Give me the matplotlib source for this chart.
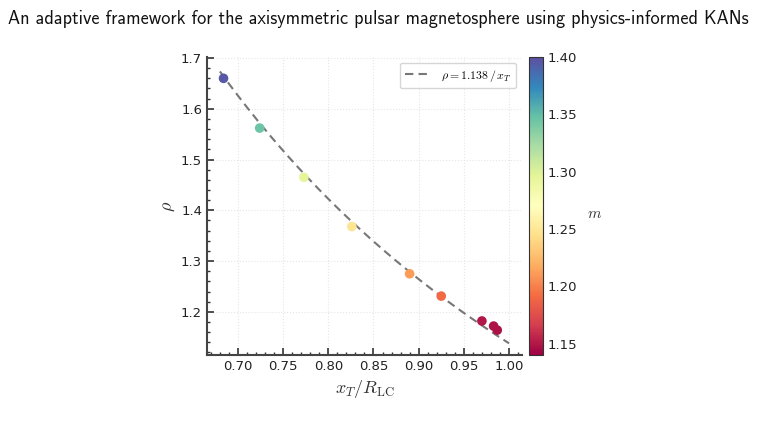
import numpy as np
import matplotlib
matplotlib.use("Agg")
import matplotlib.pyplot as plt
from matplotlib.ticker import AutoMinorLocator

plt.rcParams['mathtext.fontset'] = 'cm'
plt.rcParams['font.family'] = ['DejaVu Sans']

x_T = [0.684, 0.724, 0.773, 0.826, 0.890, 0.925, 0.970, 0.983, 0.987]
rho = [1.660, 1.562, 1.465, 1.368, 1.275, 1.231, 1.182, 1.172, 1.164]
m_vals = [1.395, 1.345, 1.295, 1.248, 1.212, 1.190, 1.150, 1.148, 1.148]
fit_coef = 1.138
fit_range = [0.68, 1.0]

fig = plt.figure(figsize=(7.57, 4.24), dpi=100)
ax = fig.add_axes([207/757, 1-355/424, 315/757, 298/424])
cax = fig.add_axes([529/757, 1-355/424, 14/757, 298/424])

xf = np.linspace(fit_range[0], fit_range[1], 200)
ax.plot(xf, fit_coef / xf, ls='--', color='#777777', lw=1.5, dashes=(4, 2.5),
        label=r'$\rho = 1.138\,/\,x_T$', zorder=2)
sc = ax.scatter(x_T, rho, c=m_vals, cmap='Spectral', vmin=1.14, vmax=1.40,
                s=48, zorder=3, edgecolors='none')

ax.set_xlim(0.6657, 1.0144)
ax.set_ylim(1.115, 1.702)
ax.set_xticks([0.70, 0.75, 0.80, 0.85, 0.90, 0.95, 1.00])
ax.set_yticks([1.2, 1.3, 1.4, 1.5, 1.6, 1.7])
ax.xaxis.set_minor_locator(AutoMinorLocator(5))
ax.yaxis.set_minor_locator(AutoMinorLocator(5))
ax.tick_params(which='both', direction='in', colors='#333333', labelcolor='#222222', labelsize=9.5)
ax.tick_params(which='major', length=5, width=1.2)
ax.tick_params(which='minor', length=2.5, width=1)
ax.grid(True, ls=':', color='#e6e6e6', lw=0.8)
for s in ['top', 'right']:
    ax.spines[s].set_visible(False)
for s in ['left', 'bottom']:
    ax.spines[s].set_color('#444444')
    ax.spines[s].set_linewidth(1.5)
ax.set_xlabel(r'$x_T/R_{\mathrm{LC}}$', fontsize=13, color='#333333')
ax.set_ylabel(r'$\rho$', fontsize=13, color='#333333', labelpad=3)

leg = ax.legend(loc='upper right', fontsize=8.5, frameon=True, fancybox=True,
                handlelength=2.3)
leg.get_frame().set_edgecolor('#cccccc')

cb = fig.colorbar(sc, cax=cax)
cb.set_ticks([1.15, 1.20, 1.25, 1.30, 1.35, 1.40])
cb.ax.tick_params(labelsize=9.5, length=0, labelcolor='#222222')
cb.outline.set_edgecolor('#333333')
cb.set_label(r'$m$', rotation=0, fontsize=11, color='#333333', labelpad=12)

fig.text(8/757, 1-19/424, 'An adaptive framework for the axisymmetric pulsar magnetosphere using physics-informed KANs',
         fontsize=13.1, va='center', ha='left', color='#111111',
         family=['cmss10', 'DejaVu Sans'])

fig.savefig('out.png', dpi=100)
